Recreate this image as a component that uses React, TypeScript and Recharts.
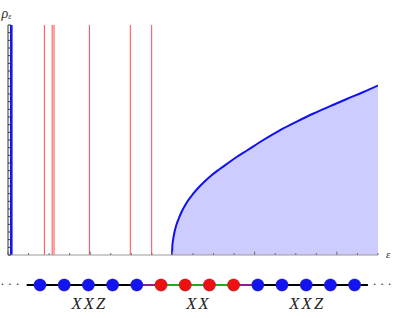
import React from 'react';
import { ComposedChart, Area, XAxis, YAxis, ReferenceLine, Line, Scatter } from 'recharts';

// ---- main density-of-states panel ----
const epsTicks = [0, 1, 2, 3, 4, 5, 6, 7, 8, 9, 10, 11, 12, 13, 14, 15, 16, 17, 18];
const epsMajorTicks = [0, 4, 8, 12, 16];
const rhoTicks = [0, 1, 2, 3, 4, 5, 6, 7, 8, 9, 10, 11, 12, 13, 14, 15, 16, 17, 18, 19, 20, 21, 22, 23, 24, 25, 26, 27, 28, 29, 30];
const spikeEps = [0.16];
const levelEps = [1.77, 2.15, 2.24, 3.96, 5.95, 6.99];
const bandEps = [7.98, 7.995, 8.03, 8.1, 8.19, 8.32, 8.43, 8.61, 8.76, 9.0, 9.25, 9.54, 9.89, 10.27, 10.71, 11.14, 11.62, 12.42, 13.24, 14.05, 14.86, 15.67, 16.48, 17.29, 18.0];
const bandRho = [0, 1.17, 1.96, 3.0, 3.91, 4.83, 5.54, 6.46, 7.11, 7.96, 8.74, 9.52, 10.37, 11.15, 12.0, 12.81, 13.63, 15.0, 16.3, 17.41, 18.46, 19.41, 20.35, 21.26, 22.11];

// ---- spin chain panel ----
const siteIndex = [0, 1, 2, 3, 4, 5, 6, 7, 8, 9, 10, 11, 12, 13];
const siteKind = ['XXZ', 'XXZ', 'XXZ', 'XXZ', 'XXZ', 'XX', 'XX', 'XX', 'XX', 'XXZ', 'XXZ', 'XXZ', 'XXZ', 'XXZ'];
const bondFrom = [-0.55, 4, 5, 8, 9];
const bondTo = [4, 5, 8, 9, 13.55];
const bondKind = ['bulk', 'link', 'defect', 'link', 'bulk'];
const regionNames = ['XXZ', 'XX', 'XXZ'];
const regionCenter = [2, 6.5, 11];
const ellipsisAt = [-1.24, 14.14];

const siteColor: Record<string, string> = { XXZ: '#1414f0', XX: '#ee1111' };
const bondColor: Record<string, string> = { bulk: '#000000', link: '#882288', defect: '#22aa22' };

const bandData = bandEps.map((e, i) => ({ eps: e, rho: bandRho[i] }));
const siteData = siteIndex.map((u, i) => ({ u, v: 0, kind: siteKind[i] }));
const labelData = regionNames.map((name, i) => ({ u: regionCenter[i], v: -19, name }));
const ellipsisData = ellipsisAt.map((u) => ({ u, v: 0 }));

const serif = '"Liberation Serif", "DejaVu Serif", serif';

const XTick = (p: any) => {
  const major = epsMajorTicks.includes(p.payload?.value);
  return <line x1={p.x} x2={p.x} y1={p.y} y2={p.y - (major ? 3.5 : 2)} stroke="#6f6f6f" strokeWidth={1} />;
};

const YTick = (p: any) => (
  <line x1={p.x} x2={p.x + 3} y1={p.y} y2={p.y} stroke="#333333" strokeWidth={1} />
);

export default function App() {
  return (
    <div style={{ position: 'absolute', left: 0, top: 0, width: 395, height: 318, background: '#fff' }}>
      <div style={{ position: 'absolute', left: 0, top: 0 }}>
        <ComposedChart width={395} height={262} data={bandData} margin={{ top: 25, right: 17, bottom: 6, left: 7 }}>
          <Area
            type="monotone"
            dataKey="rho"
            stroke="#1010f0"
            strokeWidth={2}
            fill="#ccccff"
            fillOpacity={1}
            isAnimationActive={false}
            dot={false}
            activeDot={false}
          />
          {levelEps.map((e, i) => (
            <ReferenceLine key={'lv' + i} x={e} stroke="#ff4a4a" strokeWidth={1} />
          ))}
          {spikeEps.map((e, i) => (
            <ReferenceLine key={'sp' + i} x={e} stroke="#1414f5" strokeWidth={2.6} />
          ))}
          <XAxis
            type="number"
            dataKey="eps"
            domain={[0, 18]}
            ticks={epsTicks}
            interval={0}
            allowDataOverflow
            height={1}
            tickSize={0}
            tickMargin={0}
            tickLine={false}
            tick={XTick}
            axisLine={{ stroke: '#999999' }}
          />
          <YAxis
            type="number"
            domain={[0, 30]}
            ticks={rhoTicks}
            interval={0}
            allowDataOverflow
            width={1}
            tickSize={0}
            tickMargin={0}
            tickLine={false}
            tick={YTick}
            axisLine={{ stroke: '#333333' }}
          />
          <text x={1.5} y={17.5} fontFamily={serif} fontStyle="italic" fontSize={14} fill="#333">
            ρ<tspan fontSize={8.5} dy={1}>ε</tspan>
          </text>
          <text x={386} y={258} fontFamily={serif} fontStyle="italic" fontSize={11} fill="#333">
            ε
          </text>
        </ComposedChart>
      </div>
      <div style={{ position: 'absolute', left: 0, top: 255 }}>
        <ComposedChart width={395} height={63} margin={{ top: 0, right: 0, bottom: 0, left: 0 }}>
          <XAxis type="number" dataKey="u" domain={[-1.653, 14.669]} allowDataOverflow hide />
          <YAxis type="number" dataKey="v" domain={[-33, 30]} allowDataOverflow hide />
          {bondFrom.map((f, i) => (
            <Line
              key={'b' + i}
              data={[{ u: f, v: 0 }, { u: bondTo[i], v: 0 }]}
              dataKey="v"
              stroke={bondColor[bondKind[i]]}
              strokeWidth={2}
              dot={false}
              activeDot={false}
              isAnimationActive={false}
            />
          ))}
          <Scatter
            data={siteData}
            dataKey="v"
            isAnimationActive={false}
            shape={(p: any) => (
              <circle cx={p.cx} cy={p.cy} r={6.2} fill={siteColor[p.payload.kind]} stroke="rgba(60,60,60,0.45)" strokeWidth={0.6} />
            )}
          />
          <Scatter
            data={labelData}
            dataKey="v"
            isAnimationActive={false}
            shape={(p: any) => (
              <text x={p.cx + 1.1} y={p.cy + 5} textAnchor="middle" fontFamily={serif} fontStyle="italic" fontSize={16.5} letterSpacing={2.2} fill="#222">
                {p.payload.name}
              </text>
            )}
          />
          <Scatter
            data={ellipsisData}
            dataKey="v"
            isAnimationActive={false}
            shape={(p: any) => (
              <text x={p.cx} y={p.cy + 3} textAnchor="middle" fontFamily={serif} fontSize={13} fill="#333">
                · · ·
              </text>
            )}
          />
        </ComposedChart>
      </div>
    </div>
  );
}
